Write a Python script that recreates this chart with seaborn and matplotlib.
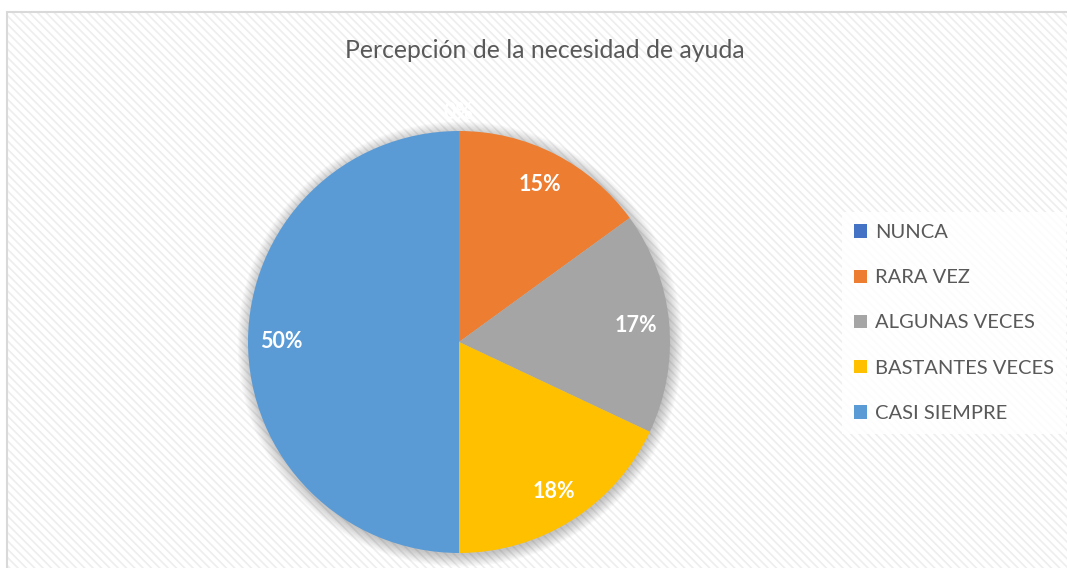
import numpy as np
import seaborn as sns
import matplotlib.pyplot as plt
from matplotlib.patches import Rectangle, Circle

# Data
categorias = ['NUNCA', 'RARA VEZ', 'ALGUNAS VECES', 'BASTANTES VECES', 'CASI SIEMPRE']
porcentajes = [0, 15, 17, 18, 50]
colores = ['#4472C4', '#ED7D31', '#A5A5A5', '#FFC000', '#5B9BD5']
titulo = 'Percepción de la necesidad de ayuda'

sns.set_theme(style='white')
plt.rcParams['font.family'] = ['Lato', 'DejaVu Sans']
plt.rcParams['hatch.linewidth'] = 1.2

W, H = 1067, 568
fig = plt.figure(figsize=(W / 100, H / 100), dpi=100)
fig.patch.set_facecolor('white')

# chart area background with faint diagonal stripes + grey border
fig.patches.append(Rectangle((7 / W, -0.05), 1.1, (H - 12) / H + 0.05,
                             transform=fig.transFigure, facecolor='white',
                             hatch='\\\\\\\\', edgecolor='#eeeeee',
                             linewidth=0, zorder=-2))
fig.patches.append(Rectangle((7 / W, -0.05), 1.1, (H - 12) / H + 0.05,
                             transform=fig.transFigure, facecolor='none',
                             edgecolor='#d9d9d9', linewidth=1.5, zorder=-1))

# pie axes: center (459, 342), radius 211 px
r = 211
ax = fig.add_axes([(459 - r) / W, (H - 342 - r) / H, 2 * r / W, 2 * r / H])

# soft shadow behind the pie
for k in range(10):
    ax.add_patch(Circle((0.005, -0.01), 1.0 + 0.006 * k, facecolor='black',
                        alpha=0.025, linewidth=0, zorder=0, clip_on=False))

paleta = sns.color_palette(colores)
wedges, texts, autotexts = ax.pie(porcentajes, colors=paleta, startangle=90,
                                  counterclock=False, autopct='%1.0f%%',
                                  pctdistance=0.84, radius=1,
                                  wedgeprops=dict(linewidth=0),
                                  textprops=dict(color='white', fontsize=15.5,
                                                 fontweight='bold'))
ax.set_xlim(-1, 1)
ax.set_ylim(-1, 1)
ax.set_aspect('equal')
ax.axis('off')

for w in wedges:
    w.set_zorder(2)
for v, t, w in zip(porcentajes, autotexts, wedges):
    t.set_zorder(3)
    t.set_clip_on(False)
    if v == 0:
        ang = np.deg2rad(w.theta1)
        t.set_position((1.09 * np.cos(ang), 1.09 * np.sin(ang)))

fig.text(545 / W, 1 - 50 / H, titulo, ha='center', va='center',
         fontsize=17.8, color='#595959')

leg = fig.legend(wedges, categorias, loc='center left',
                 bbox_to_anchor=(842 / W, 1 - 323 / H), frameon=True,
                 fontsize=14.5, labelcolor='#595959', handlelength=0.65,
                 handleheight=0.65, handletextpad=0.4, labelspacing=1.4,
                 borderpad=0.6, borderaxespad=0, fancybox=False)
leg.get_frame().set_facecolor('white')
leg.get_frame().set_edgecolor('none')
leg.get_frame().set_alpha(0.85)

fig.savefig('out.png', dpi=100)
